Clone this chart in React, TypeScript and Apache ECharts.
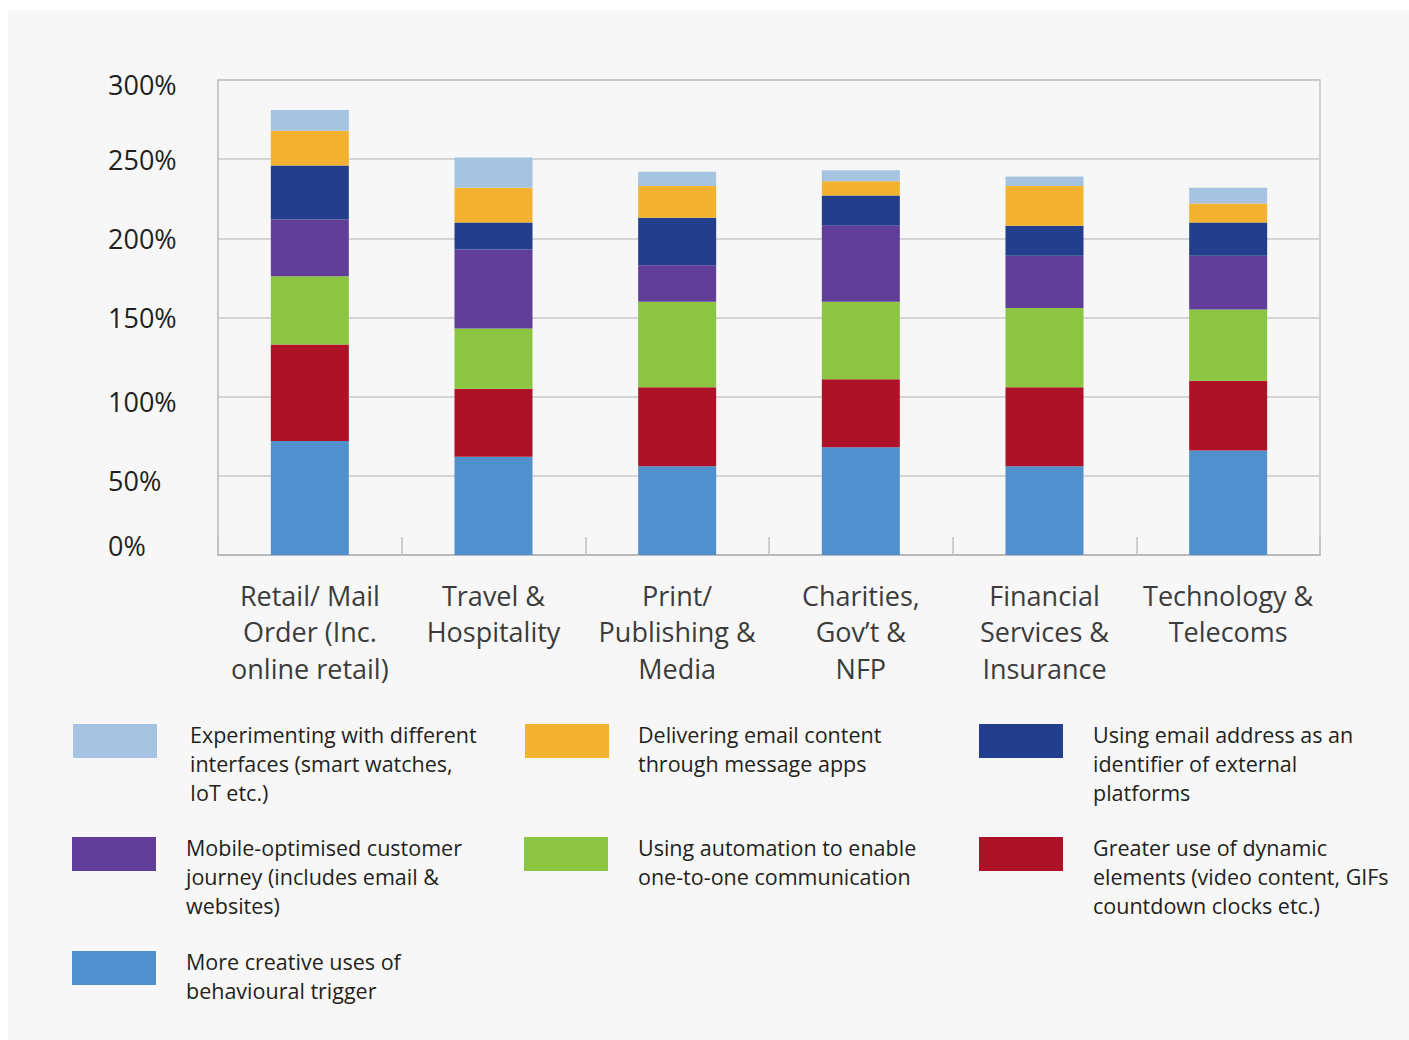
import React, { useEffect, useRef } from 'react';
import * as echarts from 'echarts';

const categories = [
  'Retail/ Mail\nOrder (Inc.\nonline retail)',
  'Travel &\nHospitality',
  'Print/\nPublishing &\nMedia',
  'Charities,\nGov’t &\nNFP',
  'Financial\nServices &\nInsurance',
  'Technology &\nTelecoms',
];

const yTickValues = [0, 50, 100, 150, 200, 250, 300];

// Series names (bottom of stack to top)
const S_TRIGGER = 'More creative uses of behavioural trigger';
const S_DYNAMIC = 'Greater use of dynamic elements (video content, GIFs countdown clocks etc.)';
const S_AUTOMATION = 'Using automation to enable one-to-one communication';
const S_MOBILE = 'Mobile-optimised customer journey (includes email & websites)';
const S_IDENTIFIER = 'Using email address as an identifier of external platforms';
const S_MESSAGE = 'Delivering email content through message apps';
const S_INTERFACES = 'Experimenting with different interfaces (smart watches, IoT etc.)';

const behaviouralTrigger = [72, 62, 56, 68, 56, 66];
const dynamicElements = [61, 43, 50, 43, 50, 44];
const automation = [43, 38, 54, 49, 50, 45];
const mobileOptimised = [36, 50, 23, 48, 33, 34];
const emailIdentifier = [34, 17, 30, 19, 19, 21];
const messageApps = [22, 22, 20, 9, 25, 12];
const newInterfaces = [13, 19, 9, 7, 6, 10];

const legendLabels: Record<string, string> = {
  [S_INTERFACES]: 'Experimenting with different\ninterfaces (smart watches,\nIoT etc.)',
  [S_MESSAGE]: 'Delivering email content\nthrough message apps',
  [S_IDENTIFIER]: 'Using email address as an\nidentifier of external\nplatforms',
  [S_MOBILE]: 'Mobile-optimised customer\njourney (includes email &\nwebsites)',
  [S_AUTOMATION]: 'Using automation to enable\none-to-one communication',
  [S_DYNAMIC]: 'Greater use of dynamic\nelements (video content, GIFs\ncountdown clocks etc.)',
  [S_TRIGGER]: 'More creative uses of\nbehavioural trigger',
};

const FONT = "'Open Sans', 'Noto Sans', sans-serif";

const seriesDefs = [
  { name: S_TRIGGER, data: behaviouralTrigger, color: '#4f90cd' },
  { name: S_DYNAMIC, data: dynamicElements, color: '#ae1228' },
  { name: S_AUTOMATION, data: automation, color: '#8bc541' },
  { name: S_MOBILE, data: mobileOptimised, color: '#613e9a' },
  { name: S_IDENTIFIER, data: emailIdentifier, color: '#233e8c' },
  { name: S_MESSAGE, data: messageApps, color: '#f3b331' },
  { name: S_INTERFACES, data: newInterfaces, color: '#a6c4e2' },
];

const legendLayout = [
  { name: S_INTERFACES, left: 65, top: 714, pl: 28 },
  { name: S_MESSAGE, left: 517, top: 714, pl: 24 },
  { name: S_IDENTIFIER, left: 971, top: 714, pl: 25 },
  { name: S_MOBILE, left: 64, top: 827, pl: 25 },
  { name: S_AUTOMATION, left: 516, top: 827, pl: 25 },
  { name: S_DYNAMIC, left: 971, top: 827, pl: 25 },
  { name: S_TRIGGER, left: 64, top: 941, pl: 25 },
];

const yLabelPad: Record<number, number[]> = {
  0: [0, 0, 20, 0],
  50: [9, 0, 0, 0],
  100: [10, 0, 0, 0],
  150: [0, 0, 0, 0],
  200: [0, 0, 0, 0],
  250: [0, 0, 0, 0],
  300: [9, 0, 0, 0],
};

export default function App() {
  const ref = useRef<HTMLDivElement>(null);

  useEffect(() => {
    if (!ref.current) return;
    const chart = echarts.init(ref.current, undefined, { renderer: 'svg' });

    const LINE_H = 29;
    const ICON_H = 34;
    const LEG_FONT = 21.5;

    const legends = legendLayout.map((l) => {
      const text = legendLabels[l.name];
      const n = text.split('\n').length;
      const H = n * LINE_H;
      const pt = Math.max(0, H - 42);
      const boxTop = ICON_H / 2 - (H + pt) / 2;
      return {
        show: true,
        data: [l.name],
        left: l.left,
        top: l.top + Math.min(0, boxTop),
        padding: 0,
        orient: 'horizontal',
        icon: 'rect',
        itemWidth: 84,
        itemHeight: ICON_H,
        selectedMode: false,
        formatter: (name: string) => `{t|${legendLabels[name]}}`,
        textStyle: {
          fontFamily: FONT,
          fontSize: LEG_FONT,
          lineHeight: LINE_H,
          color: '#231f20',
          padding: [pt, 0, 0, l.pl],
          rich: {
            t: {
              fontFamily: FONT,
              fontSize: LEG_FONT,
              lineHeight: LINE_H,
              color: '#231f20',
            },
          },
        },
      };
    });

    const rich: Record<string, any> = {};
    yTickValues.forEach((v) => {
      rich['p' + v] = {
        fontFamily: FONT,
        fontSize: 27,
        color: '#231f20',
        padding: yLabelPad[v],
      };
    });

    chart.setOption({
      animation: false,
      backgroundColor: '#f7f7f7',
      grid: {
        left: 210,
        top: 70,
        width: 1102,
        height: 475,
        show: true,
        borderColor: '#c4c4c4',
        borderWidth: 1.5,
        backgroundColor: 'transparent',
        containLabel: false,
      },
      legend: legends,
      xAxis: {
        type: 'category',
        data: categories,
        axisLine: { show: true, lineStyle: { color: '#b5b5b5', width: 1.5 } },
        axisTick: {
          show: true,
          inside: true,
          length: 18,
          alignWithLabel: false,
          lineStyle: { color: '#c0c0c0', width: 1.5 },
        },
        axisLabel: {
          interval: 0,
          margin: 22,
          fontFamily: FONT,
          fontSize: 27,
          lineHeight: 36.5,
          color: '#3c3c3c',
          align: 'center',
        },
        splitLine: { show: false },
      },
      yAxis: {
        type: 'value',
        min: 0,
        max: 300,
        interval: 50,
        axisLine: { show: true, lineStyle: { color: '#c4c4c4', width: 1.5 } },
        axisTick: { show: false },
        splitLine: { show: true, lineStyle: { color: '#c8c8c8', width: 1.5 } },
        axisLabel: {
          align: 'left',
          margin: 110,
          fontFamily: FONT,
          fontSize: 27,
          color: '#231f20',
          formatter: (v: number) => `{p${v}|${v}%}`,
          rich,
        },
      },
      series: seriesDefs.map((s) => ({
        type: 'bar',
        name: s.name,
        stack: 'total',
        data: s.data,
        barWidth: 78,
        itemStyle: { color: s.color },
        emphasis: { disabled: true },
      })),
    });

    return () => chart.dispose();
  }, []);

  return (
    <div
      style={{
        position: 'fixed',
        left: 0,
        top: 0,
        width: 1409,
        height: 1040,
        background: '#ffffff',
        overflow: 'hidden',
      }}
    >
      <div
        ref={ref}
        style={{ position: 'absolute', left: 8, top: 10, width: 1401, height: 1030 }}
      />
    </div>
  );
}
